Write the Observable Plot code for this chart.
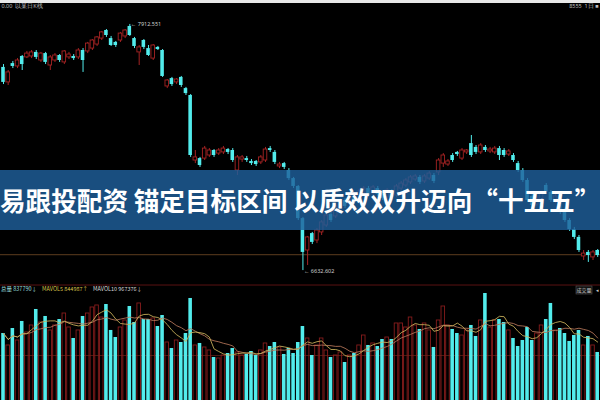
<!DOCTYPE html>
<html><head><meta charset="utf-8">
<script src="https://cdn.jsdelivr.net/npm/d3@7"></script>
<script src="https://cdn.jsdelivr.net/npm/@observablehq/plot@0.6"></script>
<style>
html,body{margin:0;padding:0;background:#000;}
#wrap{position:relative;width:600px;height:400px;background:#000;overflow:hidden;font-family:"Noto Sans CJK SC","Noto Sans",sans-serif;}
#top{position:absolute;left:0;top:0;width:600px;height:3px;background:#e8e8e8;}
#price{position:absolute;left:0;top:0;}
#vol{position:absolute;left:0;top:284px;}
#banner{position:absolute;left:0;top:170px;width:600px;height:60px;background:rgba(30,95,155,0.82);
 color:#fff;font-weight:700;font-size:25.6px;line-height:60px;text-align:center;white-space:nowrap;letter-spacing:0px;}
</style></head>
<body><div id="wrap"><div id="price"></div><div id="vol"></div><div id="top"></div><div id="banner"></div></div>
<script>
// ---- data ----
const open = [7689,7611,7709,7694,7746,7741,7746,7767,7725,7761,
 7699,7725,7751,7715,7741,7746,7741,7777,7772,7787,
 7808,7839,7881,7839,7819,7829,7850,7902,7839,7767,
 7829,7787,7735,7793,7777,7590,7631,7611,7637,7579,
 7543,7205,7215,7215,7231,7257,7241,7247,7262,7257,
 7153,7210,7215,7200,7200,7195,7205,7267,7247,7174,
 7189,7153,7111,7070,6903,6737,6825,6789,6831,6867,
 6924,6914,6961,6997,6981,7018,6997,7033,7059,7033,
 7059,7033,7013,7044,7023,7059,7075,7091,7106,7117,
 7096,7111,7127,7143,7189,7184,7231,7247,7215,7247,
 7293,7273,7247,7273,7252,7247,7267,7257,7236,7231,
 7189,7153,7101,7018,6976,7002,7075,7039,6992,6997,
 6945,6893,6846,6805,6706,6727,6701,6737];
const close = [7611,7663,7694,7725,7704,7761,7767,7741,7761,7715,
 7741,7751,7725,7772,7756,7735,7777,7725,7813,7829,
 7845,7871,7855,7803,7803,7865,7881,7855,7798,7793,
 7793,7751,7803,7782,7642,7621,7600,7626,7595,7553,
 7231,7221,7179,7267,7257,7231,7257,7267,7247,7205,
 7221,7221,7205,7189,7184,7221,7262,7257,7195,7184,
 7169,7111,7070,6903,6727,6805,6779,6841,6883,6919,
 6893,6966,6997,6966,7018,6987,7044,7059,7023,7065,
 7028,7007,7049,7013,7070,7085,7101,7117,7122,7091,
 7122,7137,7096,7205,7231,7200,7205,7236,7257,7257,
 7231,7247,7283,7257,7262,7267,7231,7231,7252,7205,
 7153,7101,6997,6971,7007,7033,7039,6997,7018,6935,
 6893,6846,6805,6737,6721,6711,6727,6711];
const high = [7704,7673,7720,7735,7751,7772,7777,7777,7767,7767,
 7751,7761,7756,7777,7767,7756,7787,7787,7819,7834,
 7850,7876,7886,7850,7824,7871,7886,7912.551,7845,7803,
 7834,7803,7808,7798,7782,7626,7637,7631,7642,7585,
 7548,7257,7221,7278,7267,7262,7267,7278,7267,7267,
 7231,7231,7226,7210,7205,7231,7273,7278,7257,7195,
 7195,7163,7117,7075,6909,6810,6831,6851,6893,6929,
 6935,6976,7007,7007,7028,7028,7054,7070,7070,7075,
 7070,7044,7059,7054,7080,7096,7111,7127,7132,7127,
 7132,7148,7137,7215,7241,7210,7241,7252,7267,7262,
 7335,7283,7293,7283,7273,7278,7278,7267,7262,7241,
 7200,7163,7111,7028,7018,7044,7085,7049,7028,7007,
 6955,6903,6857,6815,6737,6737,6737,6742];
const low = [7600,7595,7683,7683,7673,7735,7735,7730,7715,7704,
 7673,7715,7715,7704,7730,7725,7730,7663,7761,7777,
 7798,7829,7845,7798,7793,7819,7839,7850,7787,7699,
 7782,7746,7725,7777,7637,7579,7590,7600,7585,7543,
 7221,7189,7169,7205,7221,7221,7231,7236,7236,7195,
 7127,7195,7195,7179,7174,7184,7195,7247,7184,7163,
 7158,7101,7059,6893,6632.602,6659,6768,6773,6815,6857,
 6883,6903,6950,6955,6971,6976,6987,7023,7013,7023,
 7018,6997,7002,7002,7013,7049,7065,7080,7096,7080,
 7085,7101,7085,7127,7169,7174,7195,7226,7205,7236,
 7221,7236,7236,7247,7241,7236,7205,7221,7226,7195,
 7143,7091,6987,6961,6966,6992,7028,6987,6981,6924,
 6883,6836,6794,6727,6685,6675,6685,6701];
const volume = [1169,960,1256,1047,1379,1187,1309,1588,1361,1466,
 1222,1309,1413,1518,1274,1082,1222,1466,1518,1623,
 1658,1448,1675,1222,1099,1274,1396,1640,1361,1693,
 1413,1413,1431,1291,1483,1012,907,1047,1012,1169,
 1780,960,995,925,873,750,733,785,820,907,
 838,785,803,855,785,873,995,942,1012,925,
 803,907,820,1012,1291,1082,785,960,1082,873,
 750,785,838,663,785,820,960,1134,960,995,
 942,1064,1099,1064,1344,1344,1274,1448,1309,1239,
 1344,1222,925,1396,1640,1309,1239,1169,1134,1222,
 1309,1117,1396,1867,1274,1396,1413,1361,1222,1082,
 942,1047,1274,1047,1169,1309,1413,1693,1222,1256,
 1169,1030,1134,1222,960,1117,960,838];
const refPrice = 6716;
const volGrid = 785;
const titleText = "易跟投配资 锚定目标区间 以质效双升迈向“十五五”";
const volLegend = [["总量 837790↓", "#9adede"], ["MAVOL5 844987↑", "#d8c24a"], ["MAVOL10 967376↓", "#d8d8d8"]];
const topLeft = "0.00  以某日K线";
const topRight = "8555  1日 ■";
const panelLabel = "成交量";

// ---- build ----
const CYAN = "#52ecec", RED = "#a52323", VRED = "#861c1c";
const candles = open.map((o, i) => ({i, open: o, close: close[i], high: high[i], low: low[i], vol: volume[i], up: close[i] > o}));
const ups = candles.filter(d => d.up), downs = candles.filter(d => !d.up);
const hiC = candles.reduce((a, b) => b.high > a.high ? b : a);
const loC = candles.reduce((a, b) => b.low < a.low ? b : a);
const xdom = [-0.64, 127.6];
const hw = 0.38;

const price = Plot.plot({
  width: 600, height: 284, margin: 0,
  style: {background: "#000", overflow: "visible"},
  x: {domain: xdom, axis: null},
  y: {domain: [6560.2, 8037], axis: null},
  marks: [
    Plot.ruleY([refPrice], {stroke: "#4a3018", strokeWidth: 1.2}),
    Plot.ruleX(ups, {x: "i", y1: "low", y2: "high", stroke: RED, strokeWidth: 1}),
    Plot.ruleX(downs, {x: "i", y1: "low", y2: "high", stroke: CYAN, strokeWidth: 1}),
    Plot.rect(ups, {x1: d => d.i - hw, x2: d => d.i + hw, y1: "open", y2: "close", fill: "#000", stroke: RED, strokeWidth: 0.9}),
    Plot.rect(downs, {x1: d => d.i - hw, x2: d => d.i + hw, y1: "open", y2: "close", fill: CYAN}),
    Plot.text([hiC], {x: "i", y: "high", text: d => "← " + d.high.toFixed(3), dx: 1, textAnchor: "start", fontSize: 5.5, fill: "#cfcfcf"}),
    Plot.text([loC], {x: "i", y: "low", text: d => "← " + d.low.toFixed(3), dx: 1, dy: 1, textAnchor: "start", fontSize: 5.5, fill: "#cfcfcf"}),
    Plot.text([topLeft], {frameAnchor: "top-left", dx: 1, dy: 4, fontSize: 5.5, fill: "#bdbdbd"}),
    Plot.text([topRight], {frameAnchor: "top-right", dx: -2, dy: 4, fontSize: 5.5, fill: "#bdbdbd"})
  ]
});
document.getElementById("price").appendChild(price);

const vol = Plot.plot({
  width: 600, height: 116, margin: 0,
  style: {background: "#000", overflow: "visible"},
  x: {domain: xdom, axis: null},
  y: {domain: [0, 2024], axis: null},
  marks: [
    Plot.ruleY([2015], {stroke: "#5a1212", strokeWidth: 1}),
    Plot.ruleY([volGrid], {stroke: "#4a1a12", strokeWidth: 1}),
    Plot.rect(downs, {x1: d => d.i - hw, x2: d => d.i + hw, y1: () => -50, y2: "vol", fill: CYAN}),
    Plot.rect(ups, {x1: d => d.i - hw, x2: d => d.i + hw, y1: () => -50, y2: "vol", fill: "none", stroke: VRED, strokeWidth: 0.9}),
    Plot.lineY(candles, Plot.windowY({k: 10, anchor: "end"}, {x: "i", y: "vol", stroke: "#b8785a", strokeWidth: 1, strokeOpacity: 0.85})),
    Plot.lineY(candles, Plot.windowY({k: 5, anchor: "end"}, {x: "i", y: "vol", stroke: "#cdb45c", strokeWidth: 1, strokeOpacity: 0.85}))
  ]
});
document.getElementById("vol").appendChild(vol);

// legend texts (SVG text, placed one after another)
{
  const svg = d3.select(vol);
  let xpos = 1;
  volLegend.forEach(([t, c]) => {
    const el = svg.append("text").attr("x", xpos).attr("y", 6.5).attr("font-size", 5.5).attr("text-anchor", "start")
      .attr("fill", c).attr("font-family", "Noto Sans CJK SC, sans-serif").text(t);
    xpos += el.node().getComputedTextLength() + 5;
  });
  const g = svg.append("g");
  g.append("rect").attr("x", 576).attr("y", 2).attr("width", 16).attr("height", 8).attr("fill", "#111").attr("stroke", "#555").attr("stroke-width", 0.6);
  g.append("text").attr("x", 584).attr("y", 8).attr("text-anchor", "middle").attr("font-size", 5).attr("fill", "#cccccc")
    .attr("font-family", "Noto Sans CJK SC, sans-serif").text(panelLabel);
  g.append("text").attr("x", 597).attr("y", 8).attr("text-anchor", "middle").attr("font-size", 5).attr("fill", "#cccccc").text("◂");
}
document.getElementById("banner").textContent = titleText;
</script></body></html>
